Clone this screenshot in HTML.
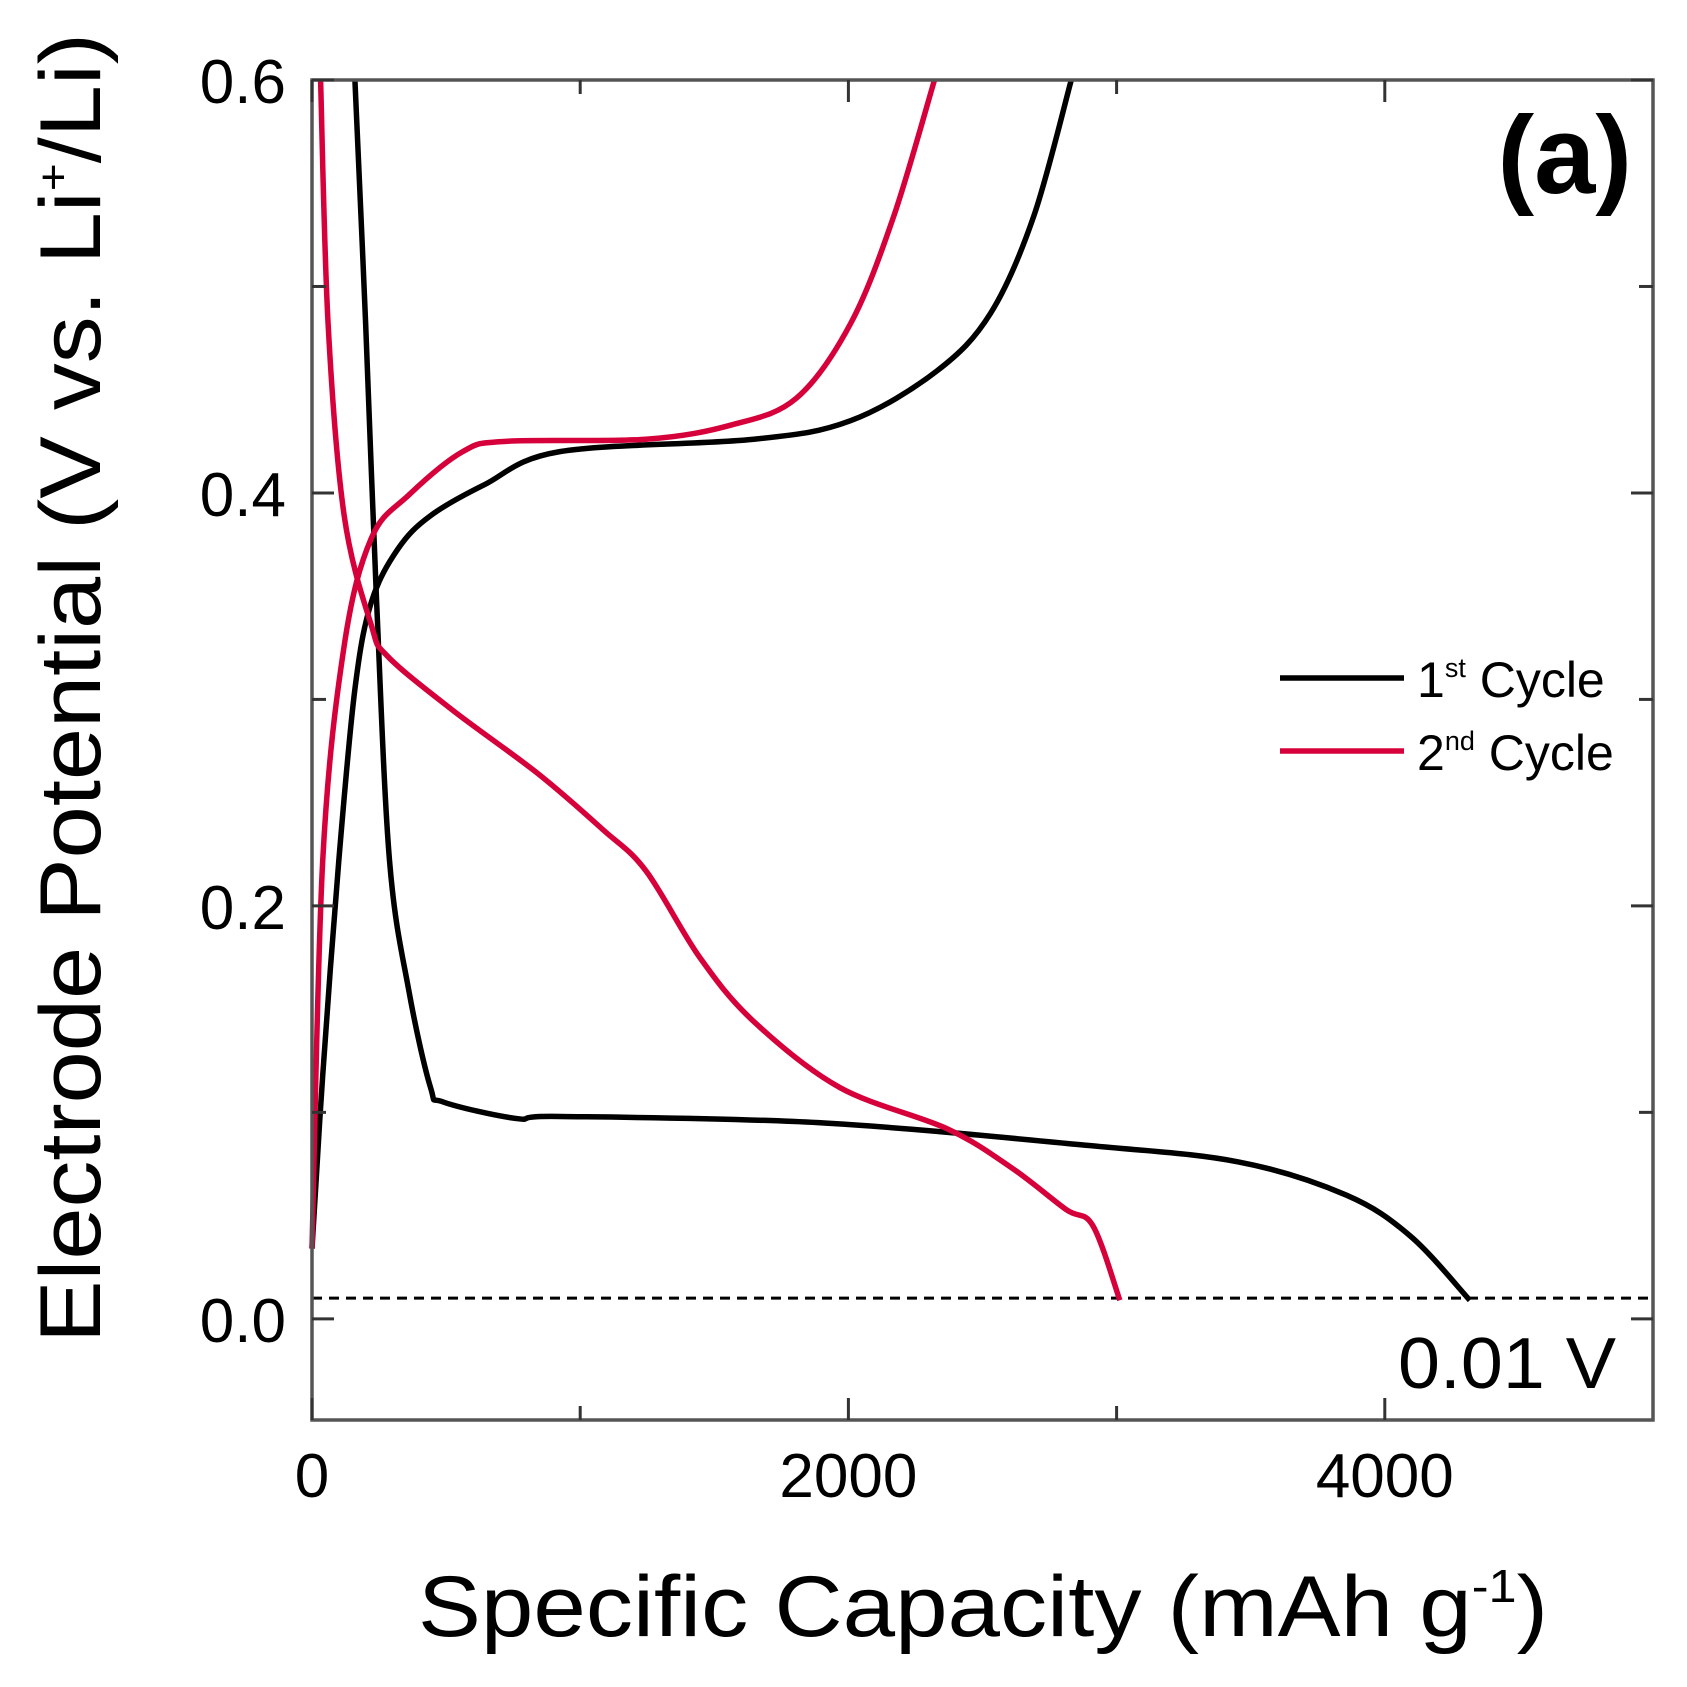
<!DOCTYPE html>
<html><head><meta charset="utf-8"><style>html,body{margin:0;padding:0;background:#fff}svg{display:block}</style></head>
<body>
<svg id="chart" width="1687" height="1687" xmlns="http://www.w3.org/2000/svg" font-family="Liberation Sans, Arial, sans-serif">
<g id="plot"></g>
</svg>
<script>
const xTicks=[0,2000,4000];
const xMinor=[1000,3000];
const yTicks=[0.0,0.2,0.4,0.6];
const yMinor=[0.1,0.3,0.5];
const c1DisX=[160,200,241,289,361,442,490,763,924,1888,2892,3454,3855,4096,4317];
const c1DisY=[0.6,0.482,0.347,0.222,0.159,0.112,0.105,0.097,0.098,0.095,0.084,0.076,0.060,0.040,0.009];
const c1ChX=[0,40,100,160,221,321,442,643,924,1647,2008,2329,2530,2691,2831];
const c1ChY=[0.034,0.118,0.222,0.305,0.347,0.373,0.389,0.404,0.42,0.426,0.435,0.459,0.487,0.534,0.6];
const c2DisX=[32,60,120,221,281,522,843,1084,1245,1446,1647,1968,2369,2610,2811,2912,3012];
const c2DisY=[0.6,0.482,0.389,0.336,0.321,0.295,0.264,0.237,0.217,0.175,0.144,0.112,0.092,0.073,0.053,0.045,0.009];
const c2ChX=[0,40,120,221,361,562,723,1245,1566,1807,2008,2169,2321];
const c2ChY=[0.034,0.222,0.326,0.378,0.399,0.42,0.425,0.426,0.433,0.446,0.482,0.534,0.6];
const cutoff=0.01;

const L=312,R=1653,T=80,B=1420;
const xMin=0,xMax=5000,yMin=-0.049,yMax=0.6;
const sx=v=>L+(v-xMin)/(xMax-xMin)*(R-L);
const sy=v=>B-(v-yMin)/(yMax-yMin)*(B-T);
const NS="http://www.w3.org/2000/svg";
const g=document.getElementById('plot');
function mk(t,a,txt){const e=document.createElementNS(NS,t);for(const k in a)e.setAttribute(k,a[k]);if(txt!==undefined)e.textContent=txt;g.appendChild(e);return e;}

function smooth(xs,ys){
  const p=xs.map((x,i)=>[sx(x),sy(ys[i])]);
  let d=`M${p[0][0]},${p[0][1]}`;
  for(let i=0;i<p.length-1;i++){
    const p0=p[i-1]||p[i],p1=p[i],p2=p[i+1],p3=p[i+2]||p2;
    const c1=[p1[0]+(p2[0]-p0[0])/6,p1[1]+(p2[1]-p0[1])/6];
    const c2=[p2[0]-(p3[0]-p1[0])/6,p2[1]-(p3[1]-p1[1])/6];
    d+=` C${c1[0]},${c1[1]} ${c2[0]},${c2[1]} ${p2[0]},${p2[1]}`;
  }
  return d;
}

let e;
e=mk('line',{x1:L,x2:R,y1:sy(cutoff),y2:sy(cutoff),stroke:'#000','stroke-width':3,'stroke-dasharray':'10,7'});


e=mk('text',{x:1616,y:1388,'font-size':72,'text-anchor':'end',textLength:218,lengthAdjust:'spacingAndGlyphs'},'0.01 V');



const series=[[c1DisX,c1DisY,'#000','cycle1-discharge'],[c1ChX,c1ChY,'#000','cycle1-charge'],[c2DisX,c2DisY,'#d6003a','cycle2-discharge'],[c2ChX,c2ChY,'#d6003a','cycle2-charge']];
for(const s of series){
  e=mk('path',{d:smooth(s[0],s[1]),fill:'none',stroke:s[2],'stroke-width':5.5,'stroke-linejoin':'round'});
  
  
}

mk('rect',{x:0,y:0,width:1687,height:T-2,fill:'#fff'});

e=mk('rect',{x:L,y:T,width:R-L,height:B-T,fill:'none',stroke:'#555','stroke-width':3.5});



for(const v of xTicks.concat(xMinor)){
  const len=xTicks.includes(v)?22:14;
  mk('line',{x1:sx(v),x2:sx(v),y1:B,y2:B-len,stroke:'#333','stroke-width':3});
  mk('line',{x1:sx(v),x2:sx(v),y1:T,y2:T+len,stroke:'#333','stroke-width':3});
}
for(const v of yTicks.concat(yMinor)){
  const len=yTicks.includes(v)?22:14;
  mk('line',{x1:L,x2:L+len,y1:sy(v),y2:sy(v),stroke:'#333','stroke-width':3});
  mk('line',{x1:R,x2:R-len,y1:sy(v),y2:sy(v),stroke:'#333','stroke-width':3});
}
for(const v of xTicks){
  e=mk('text',{x:sx(v),y:1497,'font-size':62,'text-anchor':'middle'},String(v));
  
  
}
for(const v of yTicks){
  e=mk('text',{x:286,y:sy(v)+23,'font-size':62,'text-anchor':'end'},v.toFixed(1));
  
  
}

e=mk('text',{x:418,y:1636,'font-size':86,textLength:1130,lengthAdjust:'spacingAndGlyphs'});
e.innerHTML='Specific Capacity (mAh g<tspan dy="-34" font-size="46">-1</tspan><tspan dy="34">)</tspan>';


e=mk('text',{x:0,y:0,'font-size':86,'text-anchor':'middle',transform:'translate(100,688) rotate(-90)',textLength:1310,lengthAdjust:'spacingAndGlyphs'});
e.innerHTML='Electrode Potential (V vs. Li<tspan dy="-32" font-size="44">+</tspan><tspan dy="32">/Li)</tspan>';



e=mk('text',{x:1632,y:193,'font-size':110,'font-weight':'bold','text-anchor':'end'},'(a)');



e=mk('line',{x1:1280,x2:1404,y1:678,y2:678,stroke:'#000','stroke-width':5.5});


e=mk('line',{x1:1280,x2:1404,y1:751,y2:751,stroke:'#d6003a','stroke-width':5.5});


e=mk('text',{x:1417,y:697,'font-size':50});
e.innerHTML='1<tspan dy="-20" font-size="27">st</tspan><tspan dy="20"> Cycle</tspan>';


e=mk('text',{x:1417,y:770,'font-size':50});
e.innerHTML='2<tspan dy="-20" font-size="27">nd</tspan><tspan dy="20"> Cycle</tspan>';


</script>
</body></html>
